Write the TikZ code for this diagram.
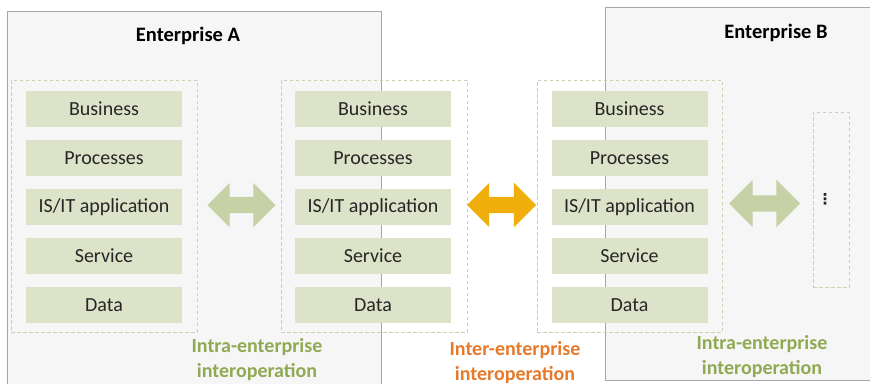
\documentclass[tikz,border=0pt]{standalone}
\usepackage{fontspec}
\setmainfont{Carlito}
\newfontfamily\symfont{DejaVu Sans}
\usetikzlibrary{shapes.arrows}
\definecolor{entfill}{HTML}{F6F6F6}
\definecolor{entline}{HTML}{A6A6A6}
\definecolor{boxfill}{HTML}{DCE3C9}
\definecolor{grpline}{HTML}{C9D0B4}
\definecolor{arrgreen}{HTML}{C6D1A5}
\definecolor{arrorange}{HTML}{F0AE0C}
\definecolor{lblgreen}{HTML}{8FAA52}
\definecolor{lblorange}{HTML}{E6792A}
\definecolor{txt}{HTML}{262626}
\tikzset{
  entbox/.style={draw=entline, line width=0.9pt, fill=entfill, anchor=north west, inner sep=0pt},
  enttitle/.style={font=\fontsize{20.5}{24}\selectfont\bfseries, text=black},
  grpbox/.style={draw=grpline, line width=0.9pt, dash pattern=on 3.5pt off 2.5pt, inner sep=0pt},
  layerbox/.style={fill=boxfill, minimum width=156pt, minimum height=36pt, inner sep=0pt,
     text=txt, font=\fontsize{20}{24}\selectfont},
  blockarrow/.style={double arrow, inner xsep=0pt, inner ysep=8pt, double arrow head extend=14pt,
     double arrow tip angle=90, minimum height=68pt},
  lbl/.style={align=center, font=\fontsize{20}{25}\selectfont\bfseries}
}
\begin{document}
\begin{tikzpicture}[x=1pt,y=-1pt]
\useasboundingbox (0,0) rectangle (870,383);
% enterprise frames
\node[entbox, minimum width=374pt, minimum height=390pt] (entA) at (7,11) {};
\node[entbox, minimum width=280pt, minimum height=373pt] (entB) at (605,7) {};
\node[enttitle] (titA) at (188,36) {Enterprise A};
\node[enttitle] (titB) at (776,33) {Enterprise B};
% dashed groups
\node[grpbox, minimum width=186pt, minimum height=252pt] (g1) at (104,206) {};
\node[grpbox, minimum width=186pt, minimum height=252pt] (g2) at (374,206) {};
\node[grpbox, minimum width=185pt, minimum height=252pt] (g3) at (629.5,206) {};
\node[grpbox, minimum width=36pt, minimum height=175pt] (g4) at (831,199.5) {};
\node[text=txt, font=\symfont\fontsize{15}{15}\selectfont\bfseries, inner sep=0pt] (dots) at (825,199.5) {⋮};
% layer boxes
\foreach \t [count=\i] in {Business,Processes,IS/IT application,Service,Data}{
  \node[layerbox] (a\i) at (104,60+49*\i) {\t};
  \node[layerbox] (b\i) at (373,60+49*\i) {\t};
  \node[layerbox] (c\i) at (629.5,60+49*\i) {\t};
}
% block arrows
\node[blockarrow, fill=arrgreen] (arr1) at (241.5,205) {};
\node[blockarrow, fill=arrorange, minimum height=69pt] (arr2) at (501.5,205) {};
\node[blockarrow, fill=arrgreen, minimum height=71pt, double arrow head extend=15.5pt] (arr3) at (764.5,203.5) {};
% labels
\node[lbl, text=lblgreen] (l1) at (257,360) {Intra-enterprise\\interoperation};
\node[lbl, text=lblorange] (l2) at (515,363) {Inter-enterprise\\interoperation};
\node[lbl, text=lblgreen] (l3) at (762,357) {Intra-enterprise\\interoperation};
\end{tikzpicture}
\end{document}
